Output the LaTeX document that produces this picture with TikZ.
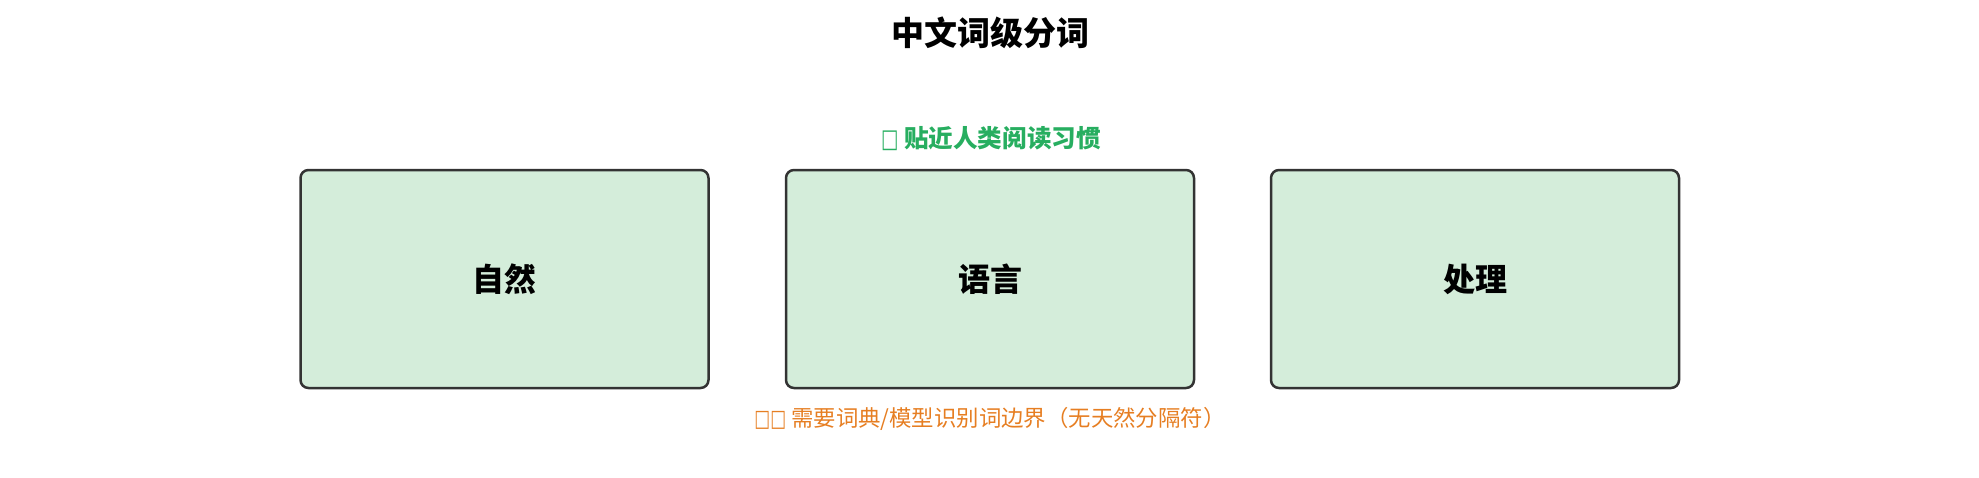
\documentclass[tikz,border=0pt]{standalone}
\usepackage{fontspec}
\setmainfont{Noto Sans CJK SC}
\newfontfamily\tofufont{DejaVu Sans}
\usetikzlibrary{positioning}

\definecolor{wordfill}{HTML}{D4EDDA}
\definecolor{wordline}{HTML}{333333}
\definecolor{goodgreen}{HTML}{27AE60}
\definecolor{warnorange}{HTML}{E67E22}

\newcommand{\tofu}[1]{\scalebox{0.75}[1.05]{\tofufont #1}}

\tikzset{
  word/.style={draw=wordline, fill=wordfill, line width=1.25pt, rounded corners=4pt,
    minimum width=204pt, minimum height=109pt, inner sep=0pt,
    font=\fontsize{16}{16}\selectfont\bfseries},
  note/.style={inner sep=0pt, font=\fontsize{12}{12}\selectfont},
}

\begin{document}
\begin{tikzpicture}[x=0.5pt,y=-0.5pt]
\useasboundingbox (0,0) rectangle (1979,477);

\node[font=\fontsize{16.5}{16.5}\selectfont\bfseries] (title) at (990,33) {中文词级分词};

% the three words
\node[word] (w1) at (504.5,279) {自然};
\node[word] (w2) at (990,279) {语言};
\node[word] (w3) at (1475,279) {处理};

\node[note, text=goodgreen, font=\fontsize{12.3}{12.3}\selectfont\bfseries] (pro) at (991,139) {\tofu{□} 贴近人类阅读习惯};
\node[note, text=warnorange, font=\fontsize{11.2}{11.2}\selectfont] (con) at (990,419) {\tofu{□□} 需要词典/模型识别词边界（无天然分隔符）};
\end{tikzpicture}
\end{document}
